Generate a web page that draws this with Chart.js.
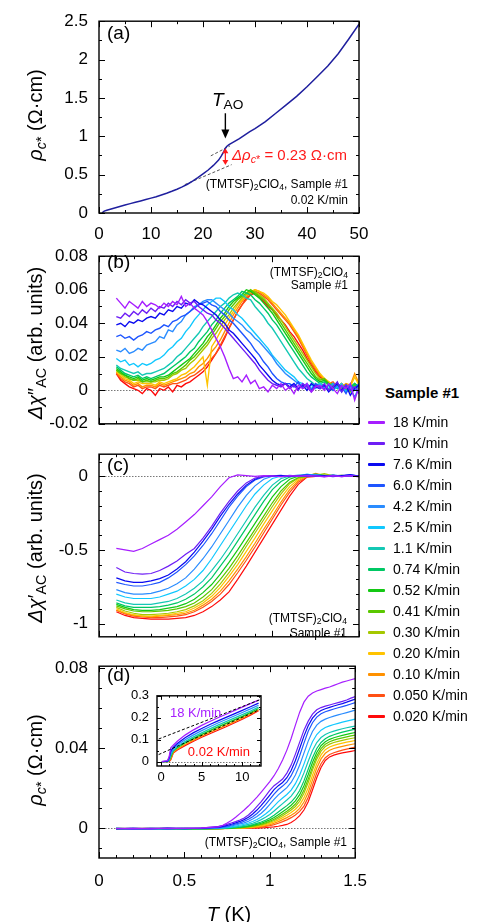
<!DOCTYPE html>
<html>
<head>
<meta charset="utf-8">
<script src="https://cdn.jsdelivr.net/npm/chart.js@4.4.1/dist/chart.umd.min.js"></script>
<style>
  html, body { margin: 0; padding: 0; background: #fff; }
  body { width: 491px; height: 922px; position: relative; overflow: hidden; font-family: 'Liberation Sans', Arial, sans-serif; color: #000; }
  canvas { position: absolute; left: 0; }
  .ytitle { position: absolute; white-space: nowrap; font-size: 20px; line-height: 1; transform: translate(-50%, -50%) rotate(-90deg); }
  .tag { position: absolute; font-size: 19px; line-height: 1; transform: translateY(-50%); }
  .note { position: absolute; font-size: 12px; line-height: 1; white-space: nowrap; transform: translate(-100%, -50%); text-align: right; }
  .txt { position: absolute; white-space: nowrap; line-height: 1; transform: translateY(-50%); }
  sub { font-size: 0.72em; vertical-align: -0.28em; line-height: 0; }
  #legend { position: absolute; left: 368px; top: 412px; }
  .lrow { position: absolute; left: 0; height: 20px; line-height: 20px; font-size: 14px; white-space: nowrap; }
  .sw { position: absolute; left: 0; top: 9px; width: 17px; height: 3px; border-radius: 1px; }
  .lrow span.l { position: absolute; left: 25px; }
</style>
</head>
<body>
<canvas id="cA" width="380" height="250" style="top:0px"></canvas>
<canvas id="cB" width="380" height="210" style="top:235px"></canvas>
<canvas id="cC" width="380" height="225" style="top:433px"></canvas>
<canvas id="cD" width="380" height="250" style="top:645px"></canvas>
<canvas id="cI" width="160" height="110" style="top:680px; left:110px"></canvas>

<div class="ytitle" style="left:35px; top:115px"><i>ρ</i><sub><i>c</i>*</sub> (Ω·cm)</div>
<div class="ytitle" style="left:35px; top:343px"><i>Δχ</i>″<sub>AC</sub> (arb. units)</div>
<div class="ytitle" style="left:35px; top:548px"><i>Δχ</i>′<sub>AC</sub> (arb. units)</div>
<div class="ytitle" style="left:35px; top:760px"><i>ρ</i><sub><i>c</i>*</sub> (Ω·cm)</div>
<div class="txt" style="left:229px; top:914px; font-size:20px; transform:translate(-50%,-50%)"><i>T</i> (K)</div>

<div class="tag" style="left:107px; top:32px">(a)</div>
<div class="tag" style="left:107px; top:261px">(b)</div>
<div class="tag" style="left:107px; top:464px">(c)</div>
<div class="tag" style="left:107px; top:674px">(d)</div>

<div class="txt" style="left:212px; top:99px; font-size:19px"><i>T</i><sub>AO</sub></div>
<div class="txt" style="left:232px; top:154px; font-size:15px; color:#ff1a1a"><i>Δρ</i><sub><i>c</i>*</sub> = 0.23 Ω·cm</div>
<div class="note" style="left:348px; top:184px">(TMTSF)<sub>2</sub>ClO<sub>4</sub>, Sample #1</div>
<div class="note" style="left:348px; top:200px">0.02 K/min</div>
<div class="note" style="left:348px; top:272px">(TMTSF)<sub>2</sub>ClO<sub>4</sub></div>
<div class="note" style="left:348px; top:285px">Sample #1</div>
<div class="note" style="left:347px; top:618px">(TMTSF)<sub>2</sub>ClO<sub>4</sub></div>
<div class="note" style="left:347px; top:633px">Sample #1</div>
<div class="note" style="left:347px; top:842px">(TMTSF)<sub>2</sub>ClO<sub>4</sub>, Sample #1</div>
<div class="txt" style="left:170px; top:712px; font-size:13px; color:#a61eff">18 K/min</div>
<div class="txt" style="left:250px; top:751px; font-size:13px; color:#ff0a0a; transform:translate(-100%,-50%)">0.02 K/min</div>

<div class="txt" style="left:422px; top:392px; font-size:15px; font-weight:bold; transform:translate(-50%,-50%)">Sample #1</div>
<div id="legend"></div>

<script>
Chart.defaults.font.family = "'Liberation Sans', Arial, sans-serif";
Chart.defaults.color = '#000';

const rates = ['18 K/min', '10 K/min', '7.6 K/min', '6.0 K/min', '4.2 K/min', '2.5 K/min', '1.1 K/min', '0.74 K/min',
  '0.52 K/min', '0.41 K/min', '0.30 K/min', '0.20 K/min', '0.10 K/min', '0.050 K/min', '0.020 K/min'];
const colors = ['#a61eff', '#6e1ef5', '#0a0af0', '#1e55ff', '#2a8cff', '#10c8ff', '#14c8b4', '#00c864',
  '#14c814', '#5ac800', '#a5c800', '#ffc300', '#ff9100', '#ff5014', '#ff0a0a'];

// (a) resistivity, 0.02 K/min
const aT = [0.6, 1, 1.5, 2, 3, 4, 5, 6, 7, 8, 9, 10, 11, 12, 13, 14, 15, 16, 17, 18, 19, 20, 21, 22, 22.5, 23, 23.5, 24, 24.3, 24.6, 25,
  26, 27, 28, 29, 30, 32, 34, 36, 38, 40, 42, 44, 46, 48, 50];
const aRho = [0.003, 0.025, 0.035, 0.045, 0.065, 0.085, 0.105, 0.122, 0.14, 0.157, 0.175, 0.194, 0.213, 0.235, 0.258, 0.283, 0.31, 0.34,
  0.375, 0.415, 0.46, 0.51, 0.56, 0.62, 0.655, 0.69, 0.74, 0.80, 0.845, 0.87, 0.89, 0.93, 0.97, 1.015, 1.06, 1.10, 1.19, 1.30, 1.41,
  1.52, 1.645, 1.78, 1.915, 2.075, 2.265, 2.46];
const aUpperFitT = [21.5, 25.2], aUpperFit = [0.745, 0.875];
const aLowerFitT = [16.5, 25.5], aLowerFit = [0.37, 0.63];
const tAO = 24.3, dRhoTop = 0.845, dRhoBottom = 0.625;

// (b) chi'' , T grid
const tB = [0.1, 0.125, 0.15, 0.175, 0.2, 0.225, 0.25, 0.275, 0.3, 0.325, 0.35, 0.375, 0.4, 0.425, 0.45, 0.475, 0.5, 0.525, 0.55, 0.575,
  0.6, 0.625, 0.65, 0.675, 0.7, 0.725, 0.75, 0.775, 0.8, 0.825, 0.85, 0.875, 0.9, 0.925, 0.95, 0.975, 1, 1.025, 1.05, 1.075, 1.1, 1.125,
  1.15, 1.175, 1.2, 1.225, 1.25, 1.275, 1.3, 1.325, 1.35, 1.375, 1.4, 1.425, 1.45, 1.475, 1.5];
const b18 = [0.055,0.052,0.049,0.053,0.051,0.049,0.053,0.050, 0.052,0.051,0.049,0.052,0.050,0.053,0.051,0.056, 0.050,0.052,0.049,0.047,0.045,0.041,0.036,0.031, 0.026,0.020,0.013,0.007,0.008,0.005,0.009,0.004, 0.006,0.001,0.002,-0.001,0.003,0.001,0.004,0.000, 0.002,-0.002,0.003,0.001,0.004,-0.001,0.002,0.003, 0.000,0.004,0.001,-0.002,0.003,0.001,0.004,-0.006, 0.002];
const b10 = [0.044,0.043,0.046,0.044,0.047,0.045,0.048,0.046, 0.049,0.047,0.050,0.049,0.052,0.050,0.053,0.051, 0.054,0.052,0.053,0.050,0.048,0.046,0.045,0.042, 0.040,0.037,0.034,0.031,0.028,0.025,0.022,0.019, 0.016,0.012,0.009,0.006,0.004,0.003,0.002,0.004, 0.001,0.003,0.000,0.004,0.002,-0.001,0.003,0.001, 0.004,0.000,0.002,0.005,-0.001,0.003,0.000,0.002, -0.002];
const b76 = [0.039,0.040,0.038,0.041,0.040,0.042,0.041,0.043, 0.044,0.043,0.046,0.045,0.048,0.047,0.050,0.049, 0.052,0.051,0.054,0.052,0.051,0.049,0.047,0.045, 0.042,0.040,0.036,0.034,0.031,0.028,0.025,0.022, 0.019,0.015,0.012,0.009,0.006,0.004,0.003,0.004, 0.002,0.004,0.001,0.003,0.000,0.004,0.002,0.001, 0.003,-0.001,0.002,0.004,0.000,0.003,-0.003,0.001, 0.003];
const b60 = [0.032,0.033,0.031,0.032,0.030,0.032,0.033,0.035, 0.034,0.036,0.037,0.039,0.038,0.041,0.042,0.044, 0.045,0.047,0.049,0.051,0.052,0.053,0.051,0.050, 0.047,0.045,0.042,0.040,0.037,0.034,0.031,0.028, 0.024,0.021,0.017,0.014,0.010,0.007,0.005,0.004, 0.004,0.002,0.005,0.001,0.003,0.000,0.004,0.002, 0.001,0.003,0.000,0.004,0.002,-0.002,0.003,0.001, 0.004];
const b42 = [0.024,0.023,0.025,0.022,0.023,0.025,0.024,0.027, 0.028,0.029,0.032,0.031,0.036,0.035,0.039,0.041, 0.045,0.047,0.050,0.051,0.053,0.054,0.054,0.052, 0.050,0.048,0.046,0.043,0.041,0.039,0.036,0.034, 0.031,0.029,0.026,0.023,0.020,0.016,0.013,0.010, 0.008,0.006,0.004,0.002,0.004,0.001,0.003,0.002, 0.003,0.000,0.004,0.002,-0.001,0.003,0.001,-0.004, 0.002];
const b25 = [0.019,0.017,0.018,0.015,0.016,0.014,0.016,0.015, 0.016,0.018,0.019,0.021,0.024,0.026,0.029,0.031, 0.035,0.038,0.042,0.045,0.048,0.051,0.053,0.055, 0.055,0.053,0.050,0.048,0.045,0.043,0.040,0.037, 0.034,0.031,0.028,0.025,0.021,0.018,0.015,0.012, 0.010,0.008,0.005,0.004,0.002,0.003,0.001,0.004, 0.001,0.003,0.000,0.002,0.004,-0.001,0.002,0.000, 0.003];
const b11 = [0.015,0.013,0.012,0.011,0.010,0.011,0.009,0.010, 0.010,0.011,0.012,0.013,0.015,0.017,0.020,0.022, 0.025,0.028,0.031,0.034,0.038,0.041,0.044,0.047, 0.050,0.052,0.055,0.057,0.058,0.057,0.055,0.054, 0.050,0.047,0.044,0.040,0.037,0.033,0.029,0.025, 0.021,0.017,0.013,0.010,0.007,0.005,0.003,0.004, 0.003,0.001,0.004,0.002,0.000,0.003,0.001,0.002, -0.001];
const b074 = [0.014,0.012,0.010,0.009,0.008,0.009,0.007,0.008, 0.007,0.008,0.009,0.010,0.012,0.014,0.016,0.018, 0.020,0.023,0.025,0.029,0.032,0.035,0.039,0.042, 0.046,0.049,0.052,0.054,0.056,0.059,0.058,0.057, 0.054,0.052,0.049,0.046,0.042,0.039,0.035,0.031, 0.027,0.023,0.019,0.015,0.011,0.008,0.006,0.004, 0.005,0.003,0.004,0.001,0.003,0.000,0.002,0.004, 0.001];
const b052 = [0.013,0.011,0.009,0.008,0.007,0.008,0.006,0.007, 0.006,0.007,0.008,0.008,0.009,0.011,0.013,0.015, 0.017,0.019,0.022,0.025,0.028,0.032,0.035,0.039, 0.043,0.046,0.050,0.053,0.055,0.057,0.060,0.059, 0.057,0.055,0.052,0.049,0.046,0.042,0.038,0.034, 0.030,0.026,0.022,0.018,0.014,0.010,0.007,0.005, 0.006,0.004,0.002,0.003,0.000,0.003,0.001,0.004, 0.002];
const b041 = [0.012,0.010,0.009,0.007,0.006,0.007,0.005,0.006, 0.005,0.006,0.007,0.007,0.008,0.010,0.011,0.013, 0.015,0.018,0.020,0.023,0.026,0.029,0.033,0.037, 0.041,0.044,0.048,0.051,0.054,0.056,0.058,0.060, 0.058,0.056,0.054,0.051,0.048,0.044,0.040,0.036, 0.032,0.028,0.024,0.020,0.016,0.012,0.008,0.006, 0.007,0.004,0.003,0.001,0.003,0.002,-0.001,0.003, 0.001];
const b030 = [0.012,0.010,0.008,0.007,0.006,0.006,0.005,0.005, 0.005,0.005,0.006,0.006,0.007,0.009,0.010,0.012, 0.013,0.016,0.018,0.021,0.024,0.027,0.031,0.034, 0.038,0.042,0.045,0.049,0.052,0.055,0.057,0.059, 0.059,0.057,0.055,0.052,0.049,0.046,0.042,0.038, 0.034,0.030,0.026,0.022,0.018,0.014,0.010,0.007, 0.006,0.004,0.003,0.002,0.004,0.001,0.003,0.000, 0.002];
const b020 = [0.011,0.009,0.007,0.006,0.004,0.005,0.004,0.004, 0.004,0.003,0.005,0.004,0.005,0.006,0.007,0.009, 0.010,0.012,0.014,0.017,0.020,0.003,0.026,0.030, 0.035,0.039,0.043,0.047,0.051,0.054,0.057,0.059, 0.060,0.059,0.058,0.056,0.053,0.051,0.048,0.045, 0.041,0.037,0.033,0.028,0.023,0.018,0.014,0.010, 0.007,0.005,0.003,0.004,0.001,0.003,0.002,0.008, 0.003];
const b010 = [0.011,0.008,0.006,0.005,0.003,0.004,0.002,0.003, 0.003,0.002,0.004,0.003,0.004,0.005,0.006,0.007, 0.008,0.010,0.011,0.014,0.016,0.019,0.023,0.026, 0.030,0.035,0.040,0.045,0.049,0.053,0.056,0.058, 0.060,0.059,0.057,0.055,0.052,0.049,0.046,0.043, 0.040,0.036,0.032,0.027,0.022,0.017,0.013,0.009, 0.007,0.005,0.003,0.004,0.002,0.004,0.003,0.010, 0.004];
const b005 = [0.010,0.007,0.005,0.004,0.002,0.003,0.001,0.002, 0.002,0.001,0.003,0.002,0.003,0.004,0.004,0.005, 0.006,0.008,0.009,0.011,0.013,0.016,0.019,0.022, 0.027,0.032,0.037,0.042,0.047,0.051,0.054,0.057, 0.059,0.058,0.056,0.054,0.051,0.048,0.045,0.042, 0.039,0.035,0.031,0.026,0.021,0.016,0.012,0.009, 0.006,0.004,0.005,0.002,0.004,0.001,0.003,0.002, 0.003];
const b002 = [0.010,0.006,0.004,0.002,0.001,0.000,-0.002,0.001, 0.000,-0.003,0.001,0.000,0.002,-0.001,0.003,0.002, 0.004,0.005,0.007,0.009,0.011,0.014,0.018,0.022, 0.026,0.031,0.037,0.042,0.047,0.051,0.055,0.057, 0.058,0.056,0.053,0.050,0.048,0.045,0.042,0.039, 0.035,0.032,0.028,0.024,0.019,0.015,0.011,0.008, 0.006,0.004,0.002,0.003,0.001,0.003,0.000,0.002, 0.003];

// (c) chi'
const tC = [0.1, 0.15, 0.2, 0.25, 0.3, 0.35, 0.4, 0.45, 0.5, 0.55, 0.6, 0.65, 0.7, 0.75, 0.8, 0.85, 0.9, 0.95, 1, 1.05, 1.1, 1.15, 1.2,
  1.25, 1.3, 1.35, 1.4, 1.45, 1.5];
const c18 = [-0.49,-0.50,-0.51,-0.49,-0.46,-0.43,-0.40,-0.36,-0.31,-0.26, -0.20,-0.14,-0.07,-0.01,0.01,0.005,0.0,0.005,0.002,-0.003, 0.004,0.0,0.006,0.002,-0.004,0.003,-0.002,0.004,-0.005];
const c10 = [-0.62,-0.65,-0.66,-0.665,-0.66,-0.64,-0.61,-0.575,-0.53,-0.49, -0.42,-0.34,-0.25,-0.17,-0.10,-0.045,-0.012,0.0,0.004,-0.002, 0.003,0.005,-0.003,0.004,0.0,0.006,-0.002,0.003,0.001];
const c76 = [-0.69,-0.71,-0.72,-0.72,-0.71,-0.695,-0.67,-0.63,-0.58,-0.515, -0.44,-0.36,-0.27,-0.19,-0.12,-0.06,-0.02,0.0,0.003,0.006, -0.002,0.004,0.008,0.001,0.005,-0.003,0.004,0.012,0.002];
const c60 = [-0.72,-0.735,-0.745,-0.745,-0.735,-0.72,-0.69,-0.65,-0.60,-0.54, -0.47,-0.39,-0.30,-0.21,-0.135,-0.07,-0.025,-0.005,0.003,0.0, 0.006,0.002,0.01,0.004,-0.002,0.007,0.003,0.009,0.002];
const c42 = [-0.77,-0.79,-0.80,-0.80,-0.795,-0.78,-0.76,-0.73,-0.69,-0.63, -0.56,-0.48,-0.39,-0.30,-0.21,-0.13,-0.065,-0.02,0.0,0.004, 0.002,0.008,0.003,0.012,0.001,0.006,0.004,0.002,0.005];
const c25 = [-0.80,-0.82,-0.83,-0.83,-0.83,-0.82,-0.80,-0.78,-0.745,-0.70, -0.64,-0.56,-0.47,-0.38,-0.29,-0.20,-0.12,-0.06,-0.015,0.0, 0.004,0.002,0.014,0.005,0.003,0.008,0.001,0.006,0.003];
const c11 = [-0.84,-0.86,-0.87,-0.87,-0.87,-0.86,-0.85,-0.83,-0.80,-0.76, -0.71,-0.64,-0.565,-0.48,-0.39,-0.30,-0.21,-0.13,-0.06,-0.015, 0.0,0.005,0.012,0.003,0.007,0.002,0.005,0.0,0.003];
const c074 = [-0.86,-0.88,-0.89,-0.89,-0.89,-0.885,-0.875,-0.86,-0.835,-0.80, -0.75,-0.69,-0.61,-0.53,-0.44,-0.35,-0.26,-0.17,-0.09,-0.035, -0.005,0.0,0.006,0.015,0.004,0.002,0.006,0.001,0.004];
const c052 = [-0.87,-0.89,-0.905,-0.91,-0.91,-0.905,-0.895,-0.885,-0.865,-0.835, -0.79,-0.735,-0.665,-0.585,-0.50,-0.41,-0.32,-0.23,-0.14,-0.07, -0.02,0.0,0.004,0.01,0.003,0.006,0.002,0.004,0.001];
const c041 = [-0.88,-0.90,-0.915,-0.92,-0.92,-0.915,-0.91,-0.90,-0.885,-0.86, -0.82,-0.77,-0.70,-0.625,-0.54,-0.45,-0.36,-0.27,-0.18,-0.10, -0.04,-0.008,0.0,0.012,0.004,0.002,0.005,0.003,0.0];
const c030 = [-0.89,-0.915,-0.93,-0.94,-0.94,-0.935,-0.93,-0.92,-0.905,-0.88, -0.845,-0.795,-0.73,-0.655,-0.57,-0.475,-0.385,-0.295,-0.205,-0.12, -0.05,-0.012,0.0,0.006,0.018,0.003,0.005,0.002,0.004];
const c020 = [-0.90,-0.925,-0.94,-0.95,-0.95,-0.945,-0.94,-0.93,-0.92,-0.895, -0.86,-0.815,-0.755,-0.68,-0.60,-0.51,-0.42,-0.325,-0.235,-0.145, -0.07,-0.02,0.0,0.01,0.004,0.007,0.002,0.005,0.003];
const c010 = [-0.91,-0.93,-0.945,-0.95,-0.955,-0.95,-0.945,-0.94,-0.93,-0.91, -0.875,-0.835,-0.78,-0.71,-0.63,-0.545,-0.455,-0.36,-0.27,-0.175, -0.09,-0.03,0.0,0.02,0.005,0.003,0.006,0.002,0.004];
const c005 = [-0.91,-0.935,-0.95,-0.955,-0.96,-0.96,-0.955,-0.95,-0.94,-0.92, -0.89,-0.85,-0.80,-0.735,-0.655,-0.57,-0.48,-0.385,-0.29,-0.195, -0.11,-0.04,-0.005,0.0,0.008,0.003,0.005,0.001,0.004];
const c002 = [-0.92,-0.945,-0.96,-0.965,-0.97,-0.97,-0.97,-0.965,-0.96,-0.945, -0.92,-0.885,-0.84,-0.785,-0.70,-0.61,-0.515,-0.42,-0.325,-0.23, -0.135,-0.055,-0.005,0.0,0.004,0.006,0.002,0.004,0.001];

// (d) low-T resistivity
const tD = [0.1, 0.2, 0.3, 0.4, 0.5, 0.6, 0.7, 0.725, 0.75, 0.775, 0.8, 0.825, 0.85, 0.875, 0.9, 0.925, 0.95, 0.975, 1, 1.025, 1.05,
  1.075, 1.1, 1.125, 1.15, 1.175, 1.2, 1.225, 1.25, 1.275, 1.3, 1.325, 1.35, 1.375, 1.4, 1.425, 1.45, 1.475, 1.5];
const d18 = [-0.0003,-0.0002,-0.0004,-0.0001,-0.0002,0.0001, 0.0006,0.0014,0.0025,0.0038,0.0054,0.0072,0.0090,0.0110,0.0132,0.0155,0.0180,0.0206,0.0232,0.0262,0.0298,0.0340,0.0390,0.0448,0.0515,0.0580,0.0630,0.0660,0.0676,0.0686,0.0693,0.0700,0.0706,0.0714,0.0722,0.0730,0.0736,0.0742,0.0748];
const d10 = [-0.0002,-0.0004,-0.0001,-0.0003,-0.0002,0.0000, 0.0008,0.0012,0.0018,0.0025,0.0032,0.0040,0.0050,0.0065,0.0085,0.0108,0.0132,0.0160,0.0188,0.0212,0.0228,0.0245,0.0275,0.0315,0.0370,0.0430,0.0490,0.0535,0.0570,0.0592,0.0603,0.0610,0.0616,0.0622,0.0628,0.0634,0.0641,0.0650,0.0658];
const d76 = [-0.0004,-0.0002,-0.0003,0.0000,-0.0003,-0.0001, 0.0004,0.0008,0.0013,0.0019,0.0026,0.0033,0.0042,0.0054,0.0070,0.0090,0.0113,0.0138,0.0165,0.0192,0.0212,0.0228,0.0252,0.0288,0.0338,0.0398,0.0460,0.0512,0.0550,0.0574,0.0588,0.0597,0.0604,0.0611,0.0617,0.0623,0.0630,0.0638,0.0645];
const d60 = [-0.0001,-0.0003,-0.0002,-0.0004,-0.0001,-0.0002, 0.0002,0.0005,0.0009,0.0014,0.0020,0.0026,0.0034,0.0044,0.0057,0.0073,0.0093,0.0117,0.0143,0.0170,0.0193,0.0210,0.0230,0.0262,0.0306,0.0362,0.0425,0.0484,0.0527,0.0555,0.0572,0.0582,0.0589,0.0596,0.0602,0.0608,0.0614,0.0621,0.0628];
const d42 = [-0.0003,-0.0001,-0.0004,-0.0002,-0.0003,-0.0001, 0.0001,0.0003,0.0006,0.0010,0.0015,0.0020,0.0026,0.0034,0.0045,0.0058,0.0074,0.0094,0.0118,0.0143,0.0166,0.0184,0.0202,0.0228,0.0265,0.0315,0.0375,0.0435,0.0483,0.0515,0.0534,0.0545,0.0553,0.0560,0.0566,0.0572,0.0578,0.0584,0.0590];
const d25 = [-0.0002,-0.0005,-0.0002,-0.0003,-0.0001,-0.0003, 0.0000,0.0001,0.0003,0.0006,0.0010,0.0014,0.0019,0.0025,0.0033,0.0043,0.0055,0.0070,0.0088,0.0110,0.0132,0.0150,0.0168,0.0190,0.0222,0.0265,0.0320,0.0380,0.0432,0.0468,0.0490,0.0503,0.0511,0.0518,0.0524,0.0530,0.0535,0.0540,0.0545];
const d11 = [-0.0004,-0.0002,-0.0005,-0.0002,-0.0004,-0.0002, -0.0001,0.0000,0.0001,0.0003,0.0006,0.0009,0.0013,0.0018,0.0024,0.0032,0.0042,0.0054,0.0068,0.0085,0.0104,0.0122,0.0140,0.0160,0.0188,0.0226,0.0276,0.0334,0.0388,0.0428,0.0453,0.0468,0.0478,0.0485,0.0491,0.0497,0.0502,0.0506,0.0510];
const d074 = [-0.0003,-0.0005,-0.0003,-0.0006,-0.0003,-0.0004, -0.0002,-0.0001,0.0000,0.0001,0.0003,0.0005,0.0008,0.0012,0.0017,0.0023,0.0030,0.0039,0.0050,0.0064,0.0080,0.0096,0.0112,0.0130,0.0154,0.0188,0.0236,0.0294,0.0352,0.0398,0.0428,0.0447,0.0459,0.0467,0.0474,0.0480,0.0485,0.0490,0.0495];
const d052 = [-0.0002,-0.0004,-0.0006,-0.0003,-0.0005,-0.0003, -0.0003,-0.0002,-0.0001,0.0000,0.0002,0.0004,0.0006,0.0009,0.0013,0.0018,0.0024,0.0032,0.0041,0.0053,0.0067,0.0082,0.0097,0.0114,0.0136,0.0167,0.0212,0.0268,0.0328,0.0378,0.0412,0.0432,0.0444,0.0452,0.0458,0.0464,0.0469,0.0474,0.0478];
const d041 = [-0.0004,-0.0003,-0.0005,-0.0004,-0.0002,-0.0004, -0.0002,-0.0003,-0.0001,0.0000,0.0001,0.0002,0.0004,0.0007,0.0010,0.0014,0.0019,0.0026,0.0034,0.0044,0.0056,0.0070,0.0084,0.0100,0.0120,0.0148,0.0190,0.0245,0.0306,0.0360,0.0398,0.0420,0.0432,0.0440,0.0446,0.0451,0.0456,0.0461,0.0465];
const d030 = [-0.0003,-0.0004,-0.0002,-0.0005,-0.0003,-0.0002, -0.0003,-0.0002,-0.0002,-0.0001,0.0000,0.0001,0.0003,0.0005,0.0008,0.0012,0.0016,0.0022,0.0029,0.0038,0.0049,0.0062,0.0075,0.0090,0.0108,0.0134,0.0174,0.0228,0.0290,0.0345,0.0385,0.0408,0.0420,0.0428,0.0434,0.0439,0.0444,0.0448,0.0452];
const d020 = [-0.0002,-0.0003,-0.0004,-0.0002,-0.0004,-0.0003, -0.0002,-0.0003,-0.0001,-0.0002,-0.0001,0.0000,0.0001,0.0003,0.0005,0.0008,0.0012,0.0017,0.0023,0.0031,0.0041,0.0052,0.0064,0.0078,0.0094,0.0116,0.0152,0.0202,0.0264,0.0322,0.0366,0.0392,0.0406,0.0414,0.0420,0.0425,0.0430,0.0434,0.0438];
const d010 = [-0.0003,-0.0002,-0.0003,-0.0004,-0.0002,-0.0003, -0.0002,-0.0001,-0.0003,-0.0002,-0.0001,-0.0001,0.0000,0.0001,0.0003,0.0005,0.0008,0.0012,0.0017,0.0024,0.0032,0.0042,0.0052,0.0064,0.0078,0.0098,0.0130,0.0178,0.0240,0.0300,0.0346,0.0374,0.0389,0.0398,0.0404,0.0409,0.0414,0.0418,0.0422];
const d005 = [-0.0004,-0.0003,-0.0002,-0.0003,-0.0004,-0.0002, -0.0003,-0.0002,-0.0002,-0.0001,-0.0002,-0.0001,-0.0001,0.0000,0.0001,0.0003,0.0005,0.0008,0.0012,0.0017,0.0024,0.0032,0.0041,0.0052,0.0065,0.0083,0.0110,0.0154,0.0214,0.0275,0.0322,0.0352,0.0368,0.0377,0.0384,0.0390,0.0395,0.0400,0.0405];
const d002 = [-0.0003,-0.0004,-0.0003,-0.0002,-0.0003,-0.0004, -0.0002,-0.0003,-0.0002,-0.0001,-0.0002,-0.0001,-0.0002,-0.0001,0.0000,0.0000,0.0001,0.0002,0.0004,0.0006,0.0009,0.0013,0.0018,0.0028,0.0042,0.0062,0.0090,0.0132,0.0190,0.0252,0.0303,0.0338,0.0356,0.0365,0.0371,0.0376,0.0380,0.0384,0.0388];

// (d) inset, wide T range, selected rates
const tI = [0.1, 0.8, 1.0, 1.2, 1.5, 2, 3, 4, 5, 6, 7, 8, 9, 10, 11, 12];
const insetRates = [0, 2, 4, 6, 8, 12, 14];
const i18 = [0, 0.005, 0.023, 0.063, 0.075, 0.093, 0.122, 0.145, 0.165, 0.183, 0.200, 0.216, 0.232, 0.248, 0.264, 0.280];
const i76 = [0, 0.002, 0.017, 0.049, 0.0645, 0.083, 0.110, 0.132, 0.151, 0.169, 0.186, 0.202, 0.218, 0.234, 0.250, 0.267];
const i42 = [0, 0.001, 0.012, 0.040, 0.059, 0.076, 0.101, 0.122, 0.141, 0.159, 0.176, 0.192, 0.208, 0.224, 0.240, 0.257];
const i11 = [0, 0, 0.007, 0.029, 0.051, 0.068, 0.092, 0.113, 0.131, 0.149, 0.166, 0.182, 0.198, 0.214, 0.230, 0.248];
const i052 = [0, 0, 0.004, 0.021, 0.048, 0.063, 0.086, 0.106, 0.124, 0.141, 0.158, 0.174, 0.190, 0.206, 0.223, 0.242];
const i010 = [0, 0, 0.002, 0.013, 0.042, 0.057, 0.079, 0.098, 0.116, 0.133, 0.149, 0.165, 0.181, 0.198, 0.216, 0.236];
const i002 = [0, 0, 0.0004, 0.009, 0.0388, 0.053, 0.074, 0.093, 0.111, 0.127, 0.143, 0.159, 0.176, 0.193, 0.212, 0.232];
const iFitT = [-0.3, 12.3], iFitHigh = [0.103, 0.284], iFitLow = [0.032, 0.240];

// ticks
const aXMajor = [0, 10, 20, 30, 40, 50], aXMinor = [5, 15, 25, 35, 45];
const aYMajor = [0, 0.5, 1, 1.5, 2, 2.5], aYMinor = [0.25, 0.75, 1.25, 1.75, 2.25];
const tMajor = [0, 0.5, 1, 1.5], tMinor = [0.1, 0.2, 0.3, 0.4, 0.6, 0.7, 0.8, 0.9, 1.1, 1.2, 1.3, 1.4];
const bYMajor = [-0.02, 0, 0.02, 0.04, 0.06, 0.08], bYMinor = [-0.01, 0.01, 0.03, 0.05, 0.07];
const cYMajor = [-1, -0.5, 0], cYMinor = [-0.9, -0.8, -0.7, -0.6, -0.4, -0.3, -0.2, -0.1, 0.1];
const dYMajor = [0, 0.04, 0.08], dYMinor = [-0.01, 0.01, 0.02, 0.03, 0.05, 0.06, 0.07];
const iXMajor = [0, 5, 10], iXMinor = [1, 2, 3, 4, 6, 7, 8, 9, 11, 12];
const iYMajor = [0, 0.1, 0.2, 0.3], iYMinor = [0.05, 0.15, 0.25];

const xy = (t, v) => v.map((y, i) => ({ x: t[i], y }));
const sets = (t, series, width) => series.map((v, i) => ({
  data: xy(t, v), borderColor: colors[i], borderWidth: width || 1.1, pointRadius: 0
}));

const frame = {
  id: 'frame',
  beforeDatasetsDraw(chart, args, o) {
    if (!o.zero) return;
    const { ctx, chartArea: a, scales: { y } } = chart;
    const py = Math.round(y.getPixelForValue(0)) + 0.5;
    ctx.save();
    ctx.strokeStyle = '#555';
    ctx.lineWidth = 0.8;
    ctx.setLineDash([1.5, 1.5]);
    ctx.beginPath();
    ctx.moveTo(a.left, py);
    ctx.lineTo(a.right, py);
    ctx.stroke();
    ctx.restore();
  },
  afterDatasetsDraw(chart, args, o) {
    const { ctx, chartArea: a, scales: { x, y } } = chart;
    ctx.save();
    ctx.strokeStyle = '#000';
    ctx.lineWidth = 1;
    ctx.beginPath();
    const xt = (vals, len) => vals.forEach(v => {
      const p = Math.round(x.getPixelForValue(v)) + 0.5;
      ctx.moveTo(p, a.bottom); ctx.lineTo(p, a.bottom - len);
      ctx.moveTo(p, a.top); ctx.lineTo(p, a.top + len);
    });
    const yt = (vals, len) => vals.forEach(v => {
      const p = Math.round(y.getPixelForValue(v)) + 0.5;
      ctx.moveTo(a.left, p); ctx.lineTo(a.left + len, p);
      ctx.moveTo(a.right, p); ctx.lineTo(a.right - len, p);
    });
    xt(o.xMajor, o.major); xt(o.xMinor, o.minor);
    yt(o.yMajor, o.major); yt(o.yMinor, o.minor);
    ctx.stroke();
    ctx.lineWidth = 1.4;
    ctx.strokeRect(a.left, a.top, a.width, a.height);
    ctx.restore();
  }
};

const arrowsA = {
  id: 'arrowsA',
  afterDatasetsDraw(chart) {
    const { ctx, scales: { x, y } } = chart;
    const head = (px, py, dir, w, l) => {
      ctx.beginPath();
      ctx.moveTo(px, py);
      ctx.lineTo(px - w, py - dir * l);
      ctx.lineTo(px + w, py - dir * l);
      ctx.closePath();
      ctx.fill();
    };
    ctx.save();
    const px = x.getPixelForValue(tAO);
    const y0 = y.getPixelForValue(1.30), y1 = y.getPixelForValue(0.97);
    ctx.strokeStyle = ctx.fillStyle = '#000';
    ctx.lineWidth = 1.4;
    ctx.beginPath(); ctx.moveTo(px, y0); ctx.lineTo(px, y1 - 7); ctx.stroke();
    head(px, y1, 1, 4, 9);
    const r0 = y.getPixelForValue(dRhoTop), r1 = y.getPixelForValue(dRhoBottom);
    ctx.strokeStyle = ctx.fillStyle = '#ff1a1a';
    ctx.lineWidth = 1.2;
    ctx.beginPath(); ctx.moveTo(px, r0 + 4); ctx.lineTo(px, r1 - 4); ctx.stroke();
    head(px, r0, -1, 3, 5);
    head(px, r1, 1, 3, 5);
    ctx.restore();
  }
};

function panel(id, cfg) {
  const fixTicks = vals => ax => { ax.ticks = vals.map(v => ({ value: v })); };
  return new Chart(document.getElementById(id), {
    type: 'line',
    data: { datasets: cfg.datasets },
    options: {
      responsive: false, animation: false, devicePixelRatio: 1,
      layout: { padding: { top: cfg.top, right: cfg.right, left: 0, bottom: 0 } },
      plugins: { legend: { display: false }, tooltip: { enabled: false }, frame: cfg.frame },
      scales: {
        x: {
          type: 'linear', min: cfg.xmin, max: cfg.xmax,
          grid: { display: false, drawTicks: false }, border: { display: false },
          ticks: { display: cfg.xLabels, autoSkip: false, maxRotation: 0, padding: cfg.xpad, font: { size: cfg.font }, callback: v => String(v) },
          afterBuildTicks: fixTicks(cfg.frame.xMajor),
          afterFit: ax => { ax.height = cfg.xh; }
        },
        y: {
          type: 'linear', min: cfg.ymin, max: cfg.ymax,
          grid: { display: false, drawTicks: false }, border: { display: false },
          ticks: { autoSkip: false, padding: cfg.ypad, font: { size: cfg.font }, callback: v => String(v) },
          afterBuildTicks: fixTicks(cfg.frame.yMajor),
          afterFit: ax => { ax.width = cfg.yw; }
        }
      }
    },
    plugins: [frame].concat(cfg.extra || [])
  });
}

panel('cA', {
  datasets: [
    { data: xy(aT, aRho), borderColor: '#1f1f9e', borderWidth: 1.5, pointRadius: 0 },
    { data: xy(aUpperFitT, aUpperFit), borderColor: '#555', borderWidth: 1, borderDash: [3, 2], pointRadius: 0 },
    { data: xy(aLowerFitT, aLowerFit), borderColor: '#555', borderWidth: 1, borderDash: [3, 2], pointRadius: 0 }
  ],
  top: 15, right: 21, xh: 37, yw: 99, xpad: 11, ypad: 11, font: 17, xLabels: true,
  xmin: 0, xmax: 50, ymin: 0, ymax: 2.5,
  frame: { xMajor: aXMajor, xMinor: aXMinor, yMajor: aYMajor, yMinor: aYMinor, major: 6, minor: 3 },
  extra: [arrowsA]
});

panel('cB', {
  datasets: sets(tB, [b18, b10, b76, b60, b42, b25, b11, b074, b052, b041, b030, b020, b010, b005, b002], 1.4),
  top: 15, right: 21, xh: 10, yw: 99, xpad: 10, ypad: 11, font: 17, xLabels: false,
  xmin: 0, xmax: 1.5, ymin: -0.02, ymax: 0.08,
  frame: { xMajor: tMajor, xMinor: tMinor, yMajor: bYMajor, yMinor: bYMinor, major: 6, minor: 3, zero: true }
});

panel('cC', {
  datasets: sets(tC, [c18, c10, c76, c60, c42, c25, c11, c074, c052, c041, c030, c020, c010, c005, c002], 1.2),
  top: 15, right: 21, xh: 12, yw: 99, xpad: 10, ypad: 11, font: 17, xLabels: false,
  xmin: 0, xmax: 1.5, ymin: -1.09, ymax: 0.15,
  frame: { xMajor: tMajor, xMinor: tMinor, yMajor: cYMajor, yMinor: cYMinor, major: 6, minor: 3, zero: true }
});

panel('cD', {
  datasets: sets(tD, [d18, d10, d76, d60, d42, d25, d11, d074, d052, d041, d030, d020, d010, d005, d002], 1.2),
  top: 15, right: 21, xh: 37, yw: 99, xpad: 13, ypad: 11, font: 17, xLabels: true,
  xmin: 0, xmax: 1.5, ymin: -0.015, ymax: 0.081,
  frame: { xMajor: tMajor, xMinor: tMinor, yMajor: dYMajor, yMinor: dYMinor, major: 6, minor: 3, zero: true }
});

const insetSeries = [i18, i76, i42, i11, i052, i010, i002];
panel('cI', {
  datasets: [
    { data: xy(iFitT, iFitHigh), borderColor: '#000', borderWidth: 1, borderDash: [3, 2], pointRadius: 0 },
    { data: xy(iFitT, iFitLow), borderColor: '#000', borderWidth: 1, borderDash: [3, 2], pointRadius: 0 }
  ].concat(insetSeries.map((v, k) => ({
    data: xy(tI, v), borderColor: colors[insetRates[k]], borderWidth: 1.3, pointRadius: 0
  }))),
  top: 10, right: 9, xh: 24, yw: 47, xpad: 4, ypad: 8, font: 13, xLabels: true,
  xmin: -0.5, xmax: 12.3, ymin: -0.02, ymax: 0.3,
  frame: { xMajor: iXMajor, xMinor: iXMinor, yMajor: iYMajor, yMinor: iYMinor, major: 4, minor: 2, zero: true }
});

const leg = document.getElementById('legend');
rates.forEach((r, i) => {
  const row = document.createElement('div');
  row.className = 'lrow';
  row.style.top = (i * 21) + 'px';
  row.innerHTML = `<span class="sw" style="background:${colors[i]}"></span><span class="l">${r}</span>`;
  leg.appendChild(row);
});
</script>
</body>
</html>
